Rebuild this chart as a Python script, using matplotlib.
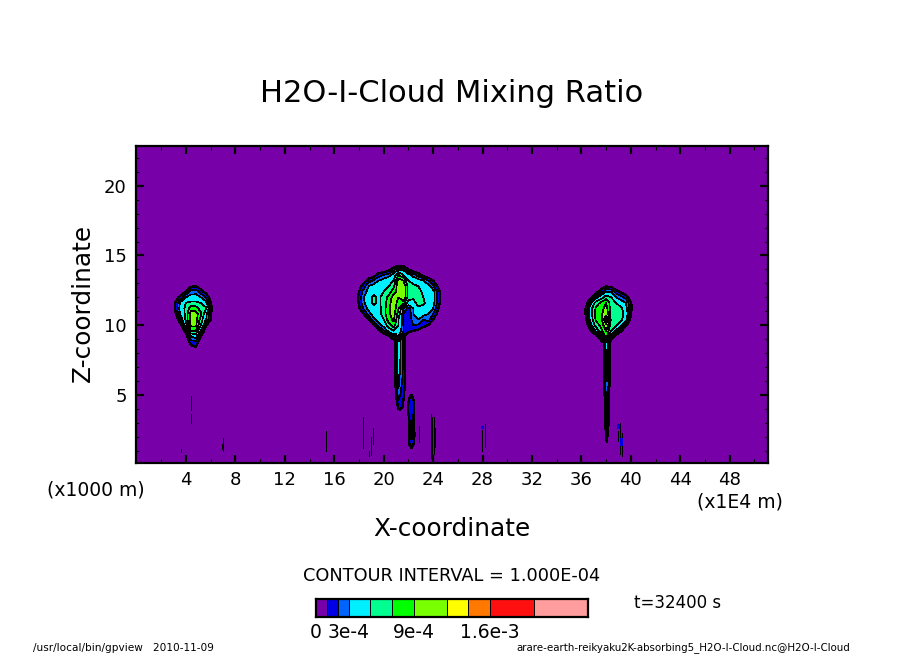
import matplotlib
matplotlib.use("Agg")
import matplotlib.pyplot as plt
import numpy as np

# mixing ratio levels, in units of 1e-4
levels = [0, 1, 2, 3, 5, 7, 9, 12, 14, 16, 20, 25]
colors = ["#7800a8", "#0000e6", "#0064ff", "#00f0ff", "#00ff90", "#00ff00",
          "#78ff00", "#ffff00", "#ff7800", "#ff1010", "#ff9c9c"]
bar_labels = {0: "0", 3: "3e-4", 9: "9e-4", 16: "1.6e-3"}

# centre cloud
mid_x = [17.6, 18.0, 18.4, 18.8, 19.2, 19.6, 20.0, 20.4, 20.8, 21.2, 21.6, 22.0, 22.4, 22.8, 23.2, 23.6, 24.0, 24.4, 24.8]
mid_z = [14.4, 14.0, 13.6, 13.2, 12.8, 12.4, 12.0, 11.6, 11.2, 10.8, 10.4, 10.0, 9.6, 9.2, 8.8]
mid_q = [
    [0, 0, 0, 0, 0, 0, 0, 0, 0, 0, 0, 0, 0, 0, 0, 0, 0, 0, 0],
    [0, 0, 0, 0, 0, 0, 0, .5, 1.5, 3, 2.5, 1, 0, 0, 0, 0, 0, 0, 0],
    [0, 0, 0, 0, .5, 1.5, 2, 2.5, 3.5, 7, 5, 3.5, 2.5, 1.5, .5, 0, 0, 0, 0],
    [0, 0, .5, 1.5, 2.2, 3, 3.5, 4, 5, 10, 9, 5, 4, 3.5, 3, 2, 1, 0, 0],
    [0, .4, 1.6, 3, 3.5, 3.8, 4, 5, 6.5, 10.5, 11, 6, 5.5, 5, 4, 3.5, 2.2, .8, 0],
    [0, 1, 2.5, 3.5, 4.5, 4, 5, 6, 8, 10, 11, 6, 5.5, 6, 4.5, 4, 3.5, 1.5, 0],
    [0, 1.2, 3, 4, 5.5, 4.5, 6, 7.5, 10, 9, 11, 6, 5.5, 6, 5, 4, 3.5, 1.5, 0],
    [0, 1.1, 2.8, 4, 5.5, 4.5, 6, 8, 10.5, 8, 8, 4, 4, 6, 5.5, 4, 3.5, 1.5, 0],
    [0, .8, 2.2, 3.5, 4.5, 4.2, 6, 8.5, 10.5, 7, 3, 1.5, 3, 4.5, 4, 3.5, 3, 1.1, 0],
    [0, 0, 1, 2.5, 3.5, 4, 6, 8.5, 10, 6, 2, 1, 3, 3.5, 3.5, 3, 2, .5, 0],
    [0, 0, 0, 1, 2.8, 3.5, 5, 8, 9.5, 5, 2, 1.2, 2.5, 3, 2, 2.5, 1, 0, 0],
    [0, 0, 0, 0, .8, 2.5, 3.5, 6, 8, 5, 2, 1.5, 2, 1.8, 1.5, 1, 0, 0, 0],
    [0, 0, 0, 0, 0, .7, 1.8, 3.5, 5, 4, 2, 1.3, 1, .8, 0, 0, 0, 0, 0],
    [0, 0, 0, 0, 0, 0, 0, .7, 2, 3, 1.2, .3, 0, 0, 0, 0, 0, 0, 0],
    [0, 0, 0, 0, 0, 0, 0, 0, .3, .5, .2, 0, 0, 0, 0, 0, 0, 0, 0],
]

# left cloud
left_x = [2.8, 3.2, 3.6, 4.0, 4.4, 4.8, 5.2, 5.6, 6.0, 6.4]
left_z = [13.2, 12.8, 12.4, 12.0, 11.6, 11.2, 10.8, 10.4, 10.0, 9.6, 9.2, 8.8, 8.4, 8.0]
left_q = [
    [0, 0, 0, 0, 0, 0, 0, 0, 0, 0],
    [0, 0, 0, 0, .8, 1, .4, 0, 0, 0],
    [0, 0, .3, 1, 2.5, 2.6, 1.5, .6, 0, 0],
    [0, .5, 1.5, 3, 3.5, 3.5, 3, 2, .5, 0],
    [0, 1.2, 3.5, 5, 5.5, 5.5, 5, 3.5, 1.1, 0],
    [0, 1.3, 4, 5.5, 8, 8, 6, 5.5, 1.3, 0],
    [0, 1, 3.5, 5.5, 10, 10, 7.5, 3.5, 1.1, 0],
    [0, .3, 2, 5.5, 10, 10, 6, 3.2, 1, .2],
    [0, 0, .8, 4, 9.5, 9.5, 5, 1.2, 0, 0],
    [0, 0, 0, 1.5, 7, 7, 3, 0, 0, 0],
    [0, 0, 0, .3, 3, 3.5, 1, 0, 0, 0],
    [0, 0, 0, 0, 1.5, 1.8, .2, 0, 0, 0],
    [0, 0, 0, 0, .6, .9, 0, 0, 0, 0],
    [0, 0, 0, 0, 0, 0, 0, 0, 0, 0],
]

# right cloud
right_x = [36.0, 36.4, 36.8, 37.2, 37.6, 38.0, 38.4, 38.8, 39.2, 39.6, 40.0, 40.4]
right_z = [13.2, 12.8, 12.4, 12.0, 11.6, 11.2, 10.8, 10.4, 10.0, 9.6, 9.2, 8.8]
right_q = [
    [0, 0, 0, 0, 0, 0, 0, 0, 0, 0, 0, 0],
    [0, 0, 0, 0, .5, .9, .6, 0, 0, 0, 0, 0],
    [0, 0, 0, .6, 1.5, 3, 3, 1.5, .8, .2, 0, 0],
    [0, 0, .8, 2.5, 4, 6, 5, 3, 2.5, 1.5, .4, 0],
    [0, .6, 3, 6, 7.5, 9, 6, 5, 3.5, 3, 1.1, 0],
    [0, 1.2, 4.5, 7.5, 8, 10, 6, 5.5, 5.5, 3.5, 1.2, 0],
    [0, 1.2, 4.5, 8, 8.5, 11, 6, 6, 6, 4, 1, 0],
    [0, 1, 4, 7.5, 8, 15, 6.5, 6, 5.5, 3.5, .5, 0],
    [0, .3, 2.8, 6, 7.5, 11, 6, 5.5, 3.5, 1.2, 0, 0],
    [0, 0, 1.1, 3.5, 6.5, 9, 5, 2.5, 1.1, 0, 0, 0],
    [0, 0, 0, .3, 2, 8, 2, .3, 0, 0, 0, 0],
    [0, 0, 0, 0, .3, 5, .3, 0, 0, 0, 0, 0],
]

# narrow stems under the clouds
mid_stem_x = [20.9, 21.05, 21.2, 21.35, 21.5, 21.65, 21.8]
mid_stem_z = [9.4, 7.6, 6.0, 5.0, 4.2, 3.7]
mid_stem_q = [
    [.5, 3, 4, 3, 2.5, 1.5, .5],
    [.5, 2.5, 4, 3, 2.5, 1.5, .5],
    [.5, 2, 3.5, 2.5, 2, 1.5, .5],
    [.3, 1.5, 2.5, 2, 1.5, 1, .3],
    [0, .3, 1.5, 1.5, 1.2, .3, 0],
    [0, 0, .3, .5, .3, 0, 0],
]
right_stem_x = [37.8, 37.95, 38.05, 38.15, 38.25, 38.4]
right_stem_z = [9.0, 7.5, 6.0, 4.5, 3.0, 1.2]
right_stem_q = [
    [.5, 3, 5, 3, 1.5, .3],
    [.5, 2.5, 4, 2.5, 1.5, .3],
    [.3, 2, 3, 2.5, 1.2, .3],
    [.3, 1.5, 3, 2, .8, 0],
    [.2, 1.2, 2.5, 1.5, .4, 0],
    [0, .2, .5, .2, 0, 0],
]

# blob low down beside the centre stem
low_x = [21.8, 21.95, 22.1, 22.25, 22.4, 22.55, 22.7]
low_z = [5.3, 4.6, 4.0, 3.4, 2.8, 2.2, 1.6, 1.1]
low_q = [
    [0, 0, 0, .5, 0, 0, 0],
    [0, .5, 1.5, 1.6, 1.2, 0, 0],
    [0, 1, 1.8, 1.8, 1.3, .3, 0],
    [0, .5, 1.3, 1.4, 1.1, 0, 0],
    [0, .3, 1.6, 3.5, 1.2, .3, 0],
    [0, .2, 1.2, 3, 1.2, .9, 0],
    [0, 0, 1.5, 1.8, 1.4, 0, 0],
    [0, 0, .2, .8, .2, 0, 0],
]

# thin streaks low down: x, z bottom, z top
streak_x = [4.45, 4.45, 3.6, 6.95, 7.0, 15.35, 15.35, 18.35, 18.85, 18.95, 19.1, 22.85, 23.85, 23.95, 24.05, 24.15, 27.95, 28.2, 38.95, 39.15, 39.25]
streak_b = [3.9, 3.0, .9, 1.1, 1.0, 1.0, 1.0, 1.2, .6, .7, 1.5, 1.6, .5, .6, .8, 1.3, 1.0, 1.3, 1.7, .8, .6]
streak_t = [4.9, 3.6, 1.1, 1.5, 1.9, 1.4, 2.4, 3.4, 1.0, 2.0, 2.6, 2.8, 3.6, 3.4, 3.4, 2.6, 2.5, 2.9, 2.4, 3.0, 2.3]
# blue cores inside those streaks
core_x = [27.95, 39.0, 39.2]
core_b = [2.6, 2.6, 1.4]
core_t = [2.8, 2.9, 1.9]
core_q = [1.5, 1.5, 1.5]

W, H = 904, 654


def fx(px):
    return px / W


def fy(py):
    return 1 - py / H


def draw_field(ax, x, z, q):
    x = np.array(x)
    z = np.array(z)[::-1]
    q = np.array(q)[::-1]
    ax.contourf(x, z, q, levels=levels[1:], colors=colors[1:], extend="neither", antialiased=False)
    ax.contour(x, z, q, levels=levels[2:], colors="k", linewidths=0.45, antialiased=False)
    ax.contour(x, z, q, levels=[1], colors="k", linewidths=0.9, antialiased=False)


fig = plt.figure(figsize=(9.04, 6.54), dpi=100)
ax = fig.add_axes([fx(136.5), fy(463), (768 - 136.5) / W, (463 - 146) / H])
ax.set_facecolor(colors[0])

draw_field(ax, mid_x, mid_z, mid_q)
draw_field(ax, left_x, left_z, left_q)
draw_field(ax, right_x, right_z, right_q)
draw_field(ax, mid_stem_x, mid_stem_z, mid_stem_q)
draw_field(ax, right_stem_x, right_stem_z, right_stem_q)
draw_field(ax, low_x, low_z, low_q)

for x, b, t in zip(streak_x, streak_b, streak_t):
    ax.plot([x, x], [b, t], color="k", lw=0.5, solid_capstyle="butt", antialiased=False)
for x, b, t, q in zip(core_x, core_b, core_t, core_q):
    ax.plot([x, x], [b, t], color=colors[np.searchsorted(levels, q) - 1], lw=0.8,
            solid_capstyle="butt", antialiased=False)

ax.set_xlim(0, 51.1)
ax.set_ylim(0.12, 22.85)
ax.set_xticks(np.arange(4, 49, 4))
ax.set_xticks(np.arange(2, 51, 2), minor=True)
ax.set_yticks(np.arange(5, 21, 5))
ax.set_yticks(np.arange(1, 23, 1), minor=True)
ax.tick_params(which="major", direction="in", top=True, right=True, length=6, width=1.6,
               labelsize=13, pad=6)
ax.tick_params(axis="y", which="major", pad=7)
ax.tick_params(axis="x", which="minor", direction="in", top=True, length=3.2, width=0.8)
ax.tick_params(axis="y", which="minor", direction="in", right=True, length=2.2, width=0.8)
for s in ax.spines.values():
    s.set_linewidth(1.6)

fig.text(fx(452), fy(93), "H2O-I-Cloud Mixing Ratio", fontsize=22, ha="center", va="center")
fig.text(fx(452), fy(529), "X-coordinate", fontsize=17.8, ha="center", va="center")
fig.text(fx(83), fy(303), "Z-coordinate", fontsize=17.8, rotation=90, ha="center", va="center")
fig.text(fx(95.5), fy(490), "(x1000 m)", fontsize=13.5, ha="center", va="center")
fig.text(fx(739.5), fy(502), "(x1E4 m)", fontsize=13.5, ha="center", va="center")
fig.text(fx(452), fy(576), "CONTOUR INTERVAL = 1.000E-04", fontsize=12.8, ha="center", va="center")
fig.text(fx(678), fy(603), "t=32400 s", fontsize=12, ha="center", va="center")
fig.text(fx(33), fy(648), "/usr/local/bin/gpview   2010-11-09", fontsize=7.6, ha="left", va="center")
fig.text(fx(850), fy(648), "arare-earth-reikyaku2K-absorbing5_H2O-I-Cloud.nc@H2O-I-Cloud", fontsize=7.35,
         ha="right", va="center")

# colour bar
cax = fig.add_axes([fx(316), fy(617), (588 - 316) / W, (617 - 599) / H])
cax.pcolormesh(levels, [0, 1], np.array(levels[:-1], dtype=float)[None, :],
               cmap=matplotlib.colors.ListedColormap(colors),
               norm=matplotlib.colors.BoundaryNorm(levels, len(colors)),
               edgecolors="k", linewidth=0.6, antialiased=False)
cax.set_xlim(levels[0], levels[-1])
cax.set_yticks([])
cax.set_xticks(list(bar_labels.keys()))
cax.set_xticklabels(list(bar_labels.values()), fontsize=13.5)
cax.tick_params(axis="x", length=0, pad=4)
for s in cax.spines.values():
    s.set_linewidth(1.6)

fig.savefig("out.png", dpi=100)
